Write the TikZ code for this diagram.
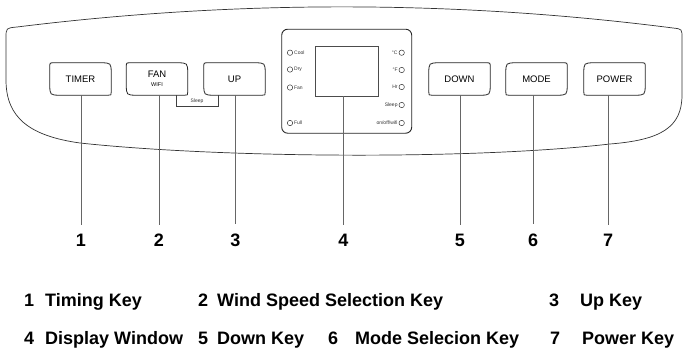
\documentclass[tikz,border=0pt]{standalone}
\usepackage{fontspec}
\setmainfont{Liberation Sans}
\usetikzlibrary{calc}
\newcommand{\keyleft}[1]{%
  \draw[keyline] ($(#1.north west)+(0,4)$) .. controls (#1.north west) .. ($(#1.north west)+(4,0)$)
   -- ($(#1.north east)+(-11,0)$) .. controls (#1.north east) .. ($(#1.north east)+(0,11)$)
   -- ($(#1.south east)+(0,-3)$) .. controls (#1.south east) .. ($(#1.south east)+(-3,0)$)
   -- ($(#1.south west)+(11,0)$) .. controls (#1.south west) .. ($(#1.south west)+(0,-11)$) -- cycle;}
\newcommand{\keyright}[1]{%
  \draw[keyline] ($(#1.north west)+(0,11)$) .. controls (#1.north west) .. ($(#1.north west)+(11,0)$)
   -- ($(#1.north east)+(-4,0)$) .. controls (#1.north east) .. ($(#1.north east)+(0,4)$)
   -- ($(#1.south east)+(0,-11)$) .. controls (#1.south east) .. ($(#1.south east)+(-11,0)$)
   -- ($(#1.south west)+(3,0)$) .. controls (#1.south west) .. ($(#1.south west)+(0,-3)$) -- cycle;}
\tikzset{
  keybox/.style={minimum width=61pt, minimum height=32pt, inner sep=0pt, font=\fontsize{9.5}{10}\selectfont},
  keyline/.style={line width=0.8pt, draw=black!85},
  panel/.style={line width=0.7pt, draw=black!80},
  lamp/.style={circle, draw=black!80, line width=0.5pt, minimum size=5.4pt, inner sep=0pt},
  ltxt/.style={font=\fontsize{5}{5}\selectfont, inner sep=1pt, text=black!80},
  leader/.style={line width=0.5pt, draw=black!60, shorten >=9pt},
  num/.style={font=\bfseries\fontsize{18}{20}\selectfont, inner sep=0pt},
  leg/.style={font=\bfseries\fontsize{18}{20}\selectfont, inner sep=0pt, anchor=base west}
}
\begin{document}
\begin{tikzpicture}[x=1pt, y=-1pt]
\useasboundingbox (0,0) rectangle (683,354);
\fill[white] (0,0) rectangle (683,354);
% outer panel
\draw[panel] (17,27) .. controls (235,0) and (455,0) .. (673,28)
  .. controls (682,29) .. (682,38) -- (682,95)
  .. controls (682,128) and (660,140) .. (610,144)
  .. controls (470,160) and (220,158) .. (80,143)
  .. controls (30,136) and (6,118) .. (6,80)
  -- (6,38) .. controls (6,28) .. (17,27) -- cycle;
% keys
\node[keybox] (timer) at (80.5,79) {TIMER};
\node[keybox, align=center] (fan) at (157,79) {FAN\\[-1pt]{\fontsize{5.5}{6}\selectfont WIFI}};
\node[keybox] (up) at (234.5,79) {UP};
\node[keybox] (down) at (459.5,79) {DOWN};
\node[keybox] (mode) at (536.5,79) {MODE};
\node[keybox] (power) at (614.5,79) {POWER};
\keyleft{timer}\keyleft{fan}\keyleft{up}
\keyright{down}\keyright{mode}\keyright{power}
% sleep bracket
\draw[line width=0.5pt, draw=black!75] ($(fan.south east)+(-11,0)$) -- ++(0,11) -| ($(up.south west)+(14,0)$);
\node[ltxt] (sleep) at (197,101) {Sleep};
% display
\node[draw=black!85, line width=0.9pt, rounded corners=6pt, minimum width=130pt, minimum height=104pt, inner sep=0pt] (disp) at (346.7,81.2) {};
\node[draw=black!70, line width=0.5pt, minimum width=63pt, minimum height=50pt, inner sep=0pt] (screen) at (346.5,71) {};
\node[lamp] (lcool) at (290,52.7) {};
\node[ltxt, anchor=west] (tcool) at (lcool.east) {Cool};
\node[lamp] (ldry) at (290,69.5) {};
\node[ltxt, anchor=west] (tdry) at (ldry.east) {Dry};
\node[lamp] (lfan) at (290,87.5) {};
\node[ltxt, anchor=west] (tfan) at (lfan.east) {Fan};
\node[lamp] (lfull) at (290,123) {};
\node[ltxt, anchor=west] (tfull) at (lfull.east) {Full};
\node[lamp] (rc) at (401.7,52.7) {};
\node[ltxt, anchor=east] (tc) at (rc.west) {°C};
\node[lamp] (rf) at (401.7,70) {};
\node[ltxt, anchor=east] (tf) at (rf.west) {°F};
\node[lamp] (rhr) at (401.7,87) {};
\node[ltxt, anchor=east] (thr) at (rhr.west) {Hr};
\node[lamp] (rsl) at (401.7,105) {};
\node[ltxt, anchor=east] (tsl) at (rsl.west) {Sleep};
\node[lamp] (ron) at (401.7,123) {};
\node[ltxt, anchor=east] (ton) at (ron.west) {on/off/wifi};
% numbers
\node[num] (n1) at (81,240) {1};
\node[num] (n2) at (159,240) {2};
\node[num] (n3) at (235.5,240) {3};
\node[num] (n4) at (343.5,240) {4};
\node[num] (n5) at (460,240) {5};
\node[num] (n6) at (533,240) {6};
\node[num] (n7) at (608,240) {7};
\draw[leader] (timer.south -| n1) -- (n1.north);
\draw[leader] (fan.south -| n2) -- (n2.north);
\draw[leader] (up.south -| n3) -- (n3.north);
\draw[leader] (screen.south -| n4) -- (n4.north);
\draw[leader] (down.south -| n5) -- (n5.north);
\draw[leader] (mode.south -| n6) -- (n6.north);
\draw[leader] (power.south -| n7) -- (n7.north);
% legend
\node[leg] (k1) at (24,306) {1};
\node[leg] (t1) at (45,306) {Timing Key};
\node[leg] (k2) at (198,306) {2};
\node[leg] (t2) at (217,306) {Wind Speed Selection Key};
\node[leg] (k3) at (549,306) {3};
\node[leg] (t3) at (580,306) {Up Key};
\node[leg] (k4) at (24,344) {4};
\node[leg] (t4) at (45,344) {Display Window};
\node[leg] (k5) at (198,344) {5};
\node[leg] (t5) at (217,344) {Down Key};
\node[leg] (k6) at (328,344) {6};
\node[leg] (t6) at (355,344) {Mode Selecion Key};
\node[leg] (k7) at (550,344) {7};
\node[leg] (t7) at (582,344) {Power Key};
\end{tikzpicture}
\end{document}
